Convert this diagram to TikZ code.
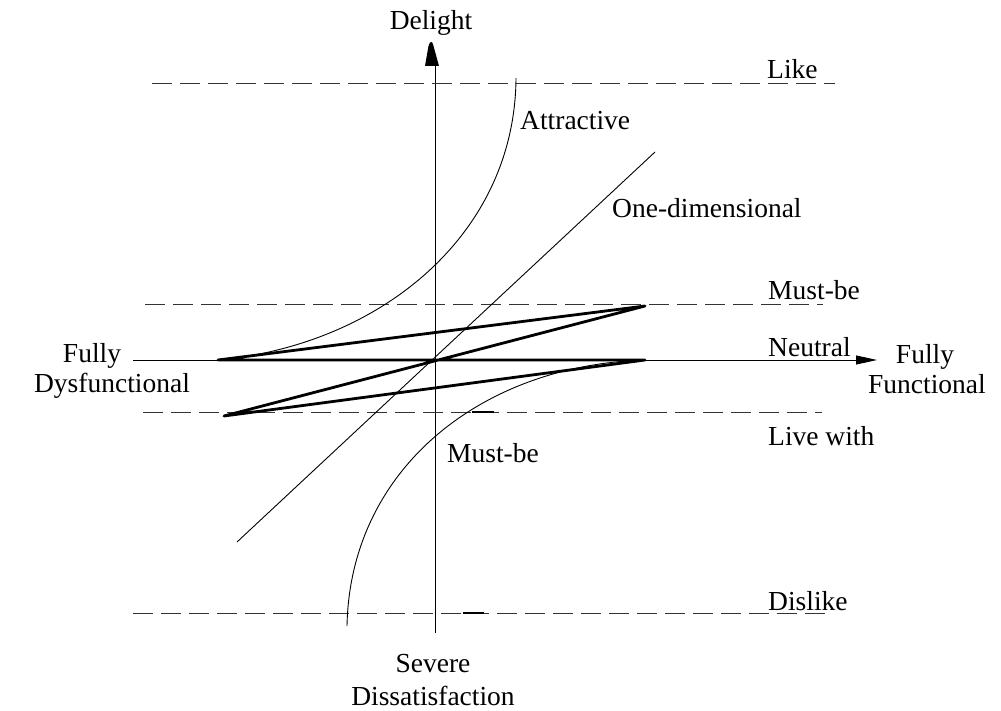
\documentclass[tikz,border=0pt]{standalone}
\usepackage{fontspec}
\setmainfont{Liberation Serif}
\usetikzlibrary{arrows.meta}
\begin{document}
\begin{tikzpicture}[x=1pt,y=-1pt,
  thin line/.style={line width=0.9pt},
  thick line/.style={line width=2.8pt, line join=round},
  level line/.style={line width=0.9pt, black!80, dash pattern=on 20pt off 8pt},
  lbl/.style={font=\fontsize{27.5}{32}\selectfont, inner sep=0pt}]
\useasboundingbox (0,0) rectangle (1001,711);

% axes
\coordinate (ybot) at (435,633);
\coordinate (ytop) at (435,64);
\coordinate (xleft) at (133,360);
\coordinate (xright) at (877,360);
\draw[thin line] (ybot) -- (ytop);
\fill (425,66) -- (428.5,46) .. controls (430,40.5) and (432.5,40.5) .. (433.5,46) -- (439,66) -- cycle;
\draw[thin line, -{Triangle[length=21pt,width=9pt]}] (xleft) -- (xright);

% level lines
\coordinate (likeL) at (152,83);    \coordinate (likeR) at (835,83);
\coordinate (mustL) at (145,304);   \coordinate (mustR) at (823,304);
\coordinate (liveL) at (143,412);   \coordinate (liveR) at (822,412);
\coordinate (disL) at (133,613);    \coordinate (disR) at (828,613);
\draw[level line] (likeL) -- (likeR);
\draw[level line] (mustL) -- (mustR);
\draw[level line] (liveL) -- (liveR);
\draw[level line] (disL) -- (disR);
\draw[line width=2pt] (472,412) -- (494,412);
\draw[line width=2pt] (463,613) -- (484,613);

% quality curves
\coordinate (attA) at (218,360);  \coordinate (attB) at (516,78);
\coordinate (musA) at (645,360);  \coordinate (musB) at (347,626);
\coordinate (oneA) at (237,542);  \coordinate (oneB) at (655,152);
\draw[thin line] (attA) .. controls (380,345) and (515,235) .. (attB);
\draw[thin line] (musA) .. controls (480,365) and (350,470) .. (musB);
\draw[thin line] (oneA) -- (oneB);

% zigzag
\coordinate (zA) at (218,360);
\coordinate (zB) at (645,306);
\coordinate (zC) at (224,416);
\coordinate (zD) at (645,360);
\draw[thick line] (zA) -- (zB) -- (zC) -- (zD) -- cycle;

% labels
\node[lbl, anchor=base] (delight) at (431,30) {Delight};
\node[lbl, anchor=base west] (like) at (767,79) {Like};
\node[lbl, anchor=base west] (mustbeTop) at (768,300) {Must-be};
\node[lbl, anchor=base west] (neutral) at (768,356) {Neutral};
\node[lbl, anchor=base west] (livewith) at (768,445) {Live with};
\node[lbl, anchor=base west] (dislike) at (768,610) {Dislike};
\node[lbl, anchor=base west] (attractive) at (520,130) {Attractive};
\node[lbl, anchor=base west] (onedim) at (612,218) {One-dimensional};
\node[lbl, anchor=base west] (mustbeLow) at (447,462) {Must-be};
\node[lbl, anchor=base] (fullyL) at (92,362) {Fully};
\node[lbl, anchor=base] (dysf) at (112,392) {Dysfunctional};
\node[lbl, anchor=base] (fullyR) at (925,363) {Fully};
\node[lbl, anchor=base] (func) at (927,393) {Functional};
\node[lbl, anchor=base] (severe) at (433,672) {Severe};
\node[lbl, anchor=base] (dissat) at (433,705) {Dissatisfaction};
\end{tikzpicture}
\end{document}
